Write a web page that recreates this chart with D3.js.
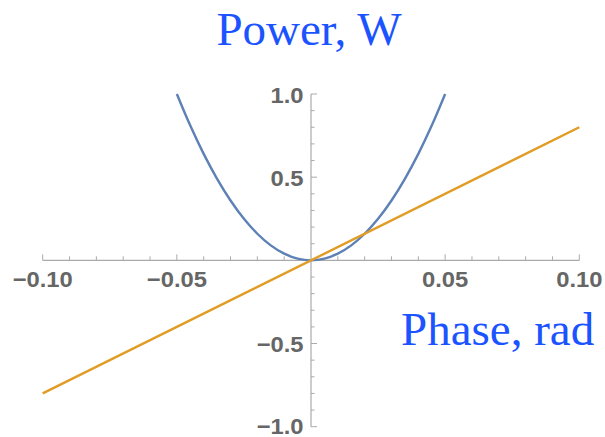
<!DOCTYPE html>
<html>
<head>
<meta charset="utf-8">
<script src="https://cdn.jsdelivr.net/npm/d3@7"></script>
<style>
  html, body { margin: 0; padding: 0; background: #fff; }
  svg { display: block; }
</style>
</head>
<body>
<svg id="chart" width="605" height="437"></svg>
<script>
// Power curve (blue) sampled across the phase range
const powerPhase = [-0.05, -0.045, -0.04, -0.035, -0.03, -0.025, -0.02, -0.015, -0.01, -0.005, 0,
                    0.005, 0.01, 0.015, 0.02, 0.025, 0.03, 0.035, 0.04, 0.045, 0.05];
const powerValue = [1.0, 0.81, 0.64, 0.49, 0.36, 0.25, 0.16, 0.09, 0.04, 0.01, 0,
                    0.01, 0.04, 0.09, 0.16, 0.25, 0.36, 0.49, 0.64, 0.81, 1.0];
// Linear response (orange)
const linePhase = [-0.10, 0.10];
const lineValue = [-0.8, 0.8];

const xMajor = [-0.10, -0.05, 0.05, 0.10];
const xMajorLabels = ["\u22120.10", "\u22120.05", "0.05", "0.10"];
const yMajor = [-1.0, -0.5, 0.5, 1.0];
const yMajorLabels = ["\u22121.0", "\u22120.5", "0.5", "1.0"];

const svg = d3.select("#chart");
const x = d3.scaleLinear().domain([-0.10, 0.10]).range([42.7, 579.3]);
const y = d3.scaleLinear().domain([-1.0, 1.0]).range([426.7, 94]);

const axisColor = "#aaaaaa";
const labelColor = "#666666";
const tickFont = "'Liberation Sans', Arial, sans-serif";
const stretch = 1.08;

// x axis line through the origin
const gx = svg.append("g");
gx.append("line")
  .attr("x1", x(-0.10)).attr("x2", x(0.10))
  .attr("y1", y(0)).attr("y2", y(0))
  .attr("stroke", axisColor).attr("stroke-width", 1.2);
const xMinor = d3.range(-10, 11).map(i => i / 100).filter(v => Math.abs(v) > 1e-9);
gx.selectAll("line.tick").data(xMinor).join("line")
  .attr("class", "tick")
  .attr("x1", d => x(d)).attr("x2", d => x(d))
  .attr("y1", y(0))
  .attr("y2", d => y(0) - (Math.abs(Math.round(d * 100)) % 5 === 0 ? 6 : 4))
  .attr("stroke", axisColor).attr("stroke-width", 1);
gx.selectAll("text").data(xMajor).join("text")
  .attr("transform", d => `translate(${x(d)},286.7) scale(${stretch},1)`)
  .attr("text-anchor", "middle")
  .attr("font-family", tickFont)
  .attr("font-weight", "bold").attr("font-size", 22)
  .attr("fill", labelColor)
  .text((d, i) => xMajorLabels[i]);

// y axis line through the origin
const gy = svg.append("g");
gy.append("line")
  .attr("x1", x(0)).attr("x2", x(0))
  .attr("y1", y(-1.0)).attr("y2", y(1.0))
  .attr("stroke", axisColor).attr("stroke-width", 1.2);
const yMinor = d3.range(-10, 11).map(i => i / 10).filter(v => Math.abs(v) > 1e-9);
gy.selectAll("line.tick").data(yMinor).join("line")
  .attr("class", "tick")
  .attr("x1", x(0))
  .attr("x2", d => x(0) + (Math.abs(Math.round(d * 10)) % 5 === 0 ? 6 : 3.5))
  .attr("y1", d => y(d)).attr("y2", d => y(d))
  .attr("stroke", axisColor).attr("stroke-width", 1);
gy.selectAll("text").data(yMajor).join("text")
  .attr("transform", d => `translate(303.5,${Math.min(y(d) + 8.5, 433.5)}) scale(${stretch},1)`)
  .attr("text-anchor", "end")
  .attr("font-family", tickFont)
  .attr("font-weight", "bold").attr("font-size", 22)
  .attr("fill", labelColor)
  .text((d, i) => yMajorLabels[i]);

// curves
const powerPts = powerPhase.map((p, i) => [p, powerValue[i]]);
const linePts = linePhase.map((p, i) => [p, lineValue[i]]);

svg.append("path")
  .attr("d", d3.line().x(d => x(d[0])).y(d => y(d[1])).curve(d3.curveCatmullRom)(powerPts))
  .attr("fill", "none").attr("stroke", "#5E81B5").attr("stroke-width", 2.4);
svg.append("path")
  .attr("d", d3.line().x(d => x(d[0])).y(d => y(d[1]))(linePts))
  .attr("fill", "none").attr("stroke", "#E19C24").attr("stroke-width", 2.4);

// axis titles
svg.append("text")
  .attr("x", 309).attr("y", 45)
  .attr("text-anchor", "middle")
  .attr("font-family", "'Liberation Serif', 'Times New Roman', serif")
  .attr("font-size", 47).attr("fill", "#1a53ff")
  .text("Power, W");
svg.append("text")
  .attr("x", 401).attr("y", 345)
  .attr("text-anchor", "start")
  .attr("font-family", "'Liberation Serif', 'Times New Roman', serif")
  .attr("font-size", 47).attr("fill", "#1a53ff")
  .text("Phase, rad");
</script>
</body>
</html>
